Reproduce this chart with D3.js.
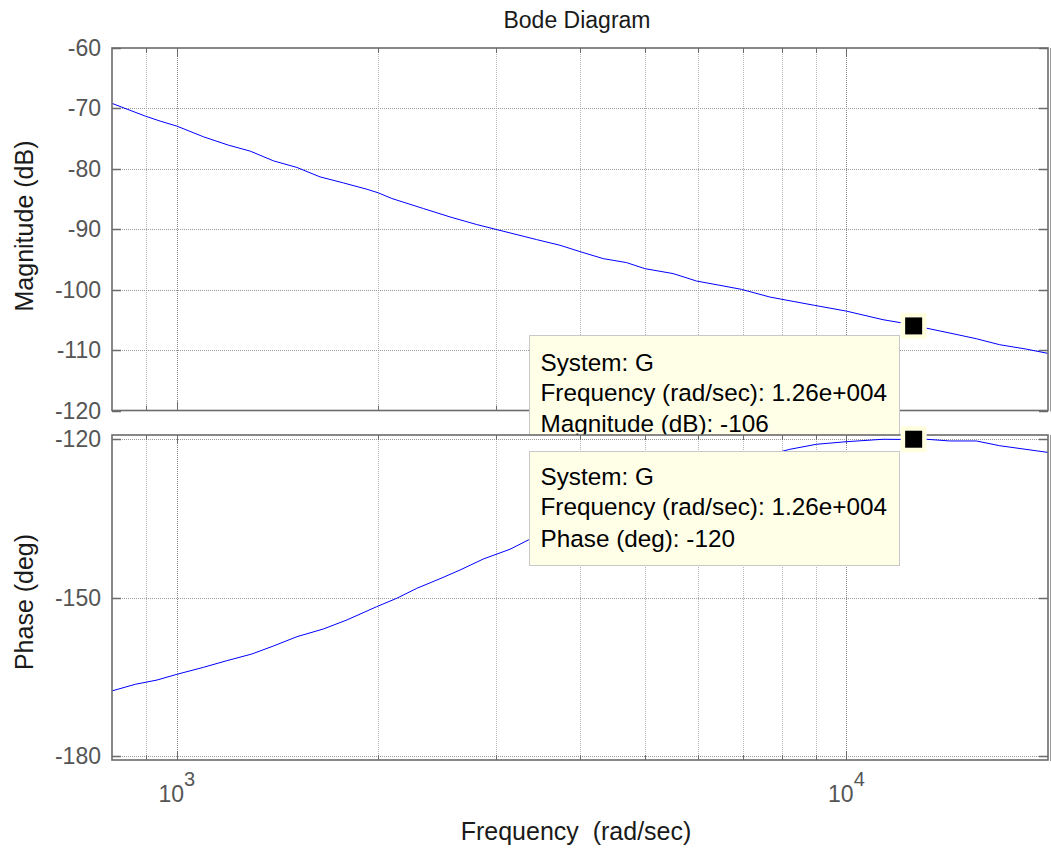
<!DOCTYPE html>
<html><head><meta charset="utf-8">
<script src="https://cdn.jsdelivr.net/npm/d3@7"></script>
<style>body{margin:0;background:#fff;} svg{display:block;} text{font-family:"Liberation Sans",Arial,sans-serif;}</style>
</head><body>
<svg id="c" width="1051" height="852"></svg>
<script>
// ---- data ----
const magFreq = [800, 897, 944, 1000, 1096, 1194, 1287, 1394, 1511, 1636, 1773, 1921, 2000, 2094, 2334, 2558, 2804, 3003, 3445, 3734, 3999, 4332, 4694, 5000, 5511, 5972, 6471, 6971, 7685, 8325, 8966, 10000, 11340, 12548, 13164, 14426, 15631, 16935, 18565, 20000];
const magDb = [-69.17, -71.27, -72.10, -72.93, -74.70, -76.08, -77.07, -78.68, -79.77, -81.33, -82.33, -83.37, -83.98, -84.91, -86.57, -87.96, -89.22, -90.05, -91.71, -92.65, -93.70, -94.86, -95.52, -96.52, -97.34, -98.57, -99.28, -99.95, -101.22, -101.94, -102.60, -103.55, -104.97, -105.80, -106.37, -107.29, -108.12, -109.11, -109.84, -110.55];
const phaseFreq = [800, 867, 934, 1000, 1096, 1187, 1294, 1394, 1511, 1655, 1794, 1988, 2130, 2282, 2472, 2648, 2869, 3144, 3348, 3734, 4283, 5085, 6039, 7171, 8231, 9020, 10000, 11340, 12548, 13164, 14264, 15631, 16935, 20000];
const phaseDeg = [-167.7, -166.45, -165.64, -164.56, -163.23, -161.98, -160.71, -159.19, -157.43, -155.97, -154.26, -151.74, -150.15, -148.26, -146.44, -144.79, -142.70, -140.86, -139.10, -136.3, -133.3, -129.8, -126.6, -123.9, -121.91, -120.96, -120.47, -120.01, -120.05, -120.01, -120.33, -120.33, -121.23, -122.5];
const magTicks = [-60, -70, -80, -90, -100, -110, -120];
const phaseTicks = [-120, -150, -180];
const freqGrid = [900, 1000, 2000, 3000, 4000, 5000, 6000, 7000, 8000, 9000, 10000];
const freqMajor = [1000, 10000];
const freqLabels = [{v:1000, base:"10", exp:"3"}, {v:10000, base:"10", exp:"4"}];
const markerFreq = 12600;
const markerMag = -106;
const markerPhase = -120;
const tip1Lines = ["System: G", "Frequency (rad/sec): 1.26e+004", "Magnitude (dB): -106"];
const tip2Lines = ["System: G", "Frequency (rad/sec): 1.26e+004", "Phase (deg): -120"];

// ---- layout ----
const svg = d3.select("#c");
const L = 112, R = 1048;
const x = d3.scaleLog().domain([800, 20000]).range([L, R]);
const yM = d3.scaleLinear().domain([-120, -60]).range([410.5, 48]);
const yP = d3.scaleLinear().domain([-180.8, -119.2]).range([760, 435]);
const axisCol = "#6b6b6b", labCol = "#555";

function panel(y, ticks, gridVals, top, bot) {
  const g = svg.append("g");
  g.append("rect").attr("x", L).attr("y", top).attr("width", R - L).attr("height", bot - top).attr("fill", "#fff");
  freqGrid.forEach(f => {
    const maj = freqMajor.includes(f);
    g.append("line").attr("x1", Math.round(x(f)) + 0.5).attr("x2", Math.round(x(f)) + 0.5)
      .attr("y1", top).attr("y2", bot)
      .attr("stroke", maj ? "#8a8a8a" : "#b4b4b4").attr("stroke-width", 1)
      .attr("stroke-dasharray", "1,1");
  });
  gridVals.forEach(v => {
    g.append("line").attr("x1", L).attr("x2", R).attr("y1", Math.round(y(v)) + 0.5).attr("y2", Math.round(y(v)) + 0.5)
      .attr("stroke", "#999").attr("stroke-width", 1).attr("stroke-dasharray", "1,1");
  });
  freqGrid.forEach(f => {
    const len = freqMajor.includes(f) ? 9 : 5;
    const xx = Math.round(x(f)) + 0.5;
    g.append("line").attr("x1", xx).attr("x2", xx).attr("y1", top).attr("y2", top + len).attr("stroke", axisCol);
    g.append("line").attr("x1", xx).attr("x2", xx).attr("y1", bot).attr("y2", bot - len).attr("stroke", axisCol);
  });
  ticks.forEach(v => {
    const yy = Math.round(y(v)) + 0.5;
    g.append("line").attr("x1", L).attr("x2", L + 9).attr("y1", yy).attr("y2", yy).attr("stroke", axisCol).attr("stroke-width", 1.5);
    g.append("line").attr("x1", R - 9).attr("x2", R).attr("y1", yy).attr("y2", yy).attr("stroke", axisCol).attr("stroke-width", 1.5);
    g.append("text").attr("x", 101).attr("y", y(v)).attr("dy", "0.35em").attr("text-anchor", "end")
      .attr("font-size", 23).attr("fill", labCol).text(v);
  });
  return g;
}

function border(top, bot) {
  svg.append("rect").attr("x", L).attr("y", top).attr("width", R - L).attr("height", bot - top)
    .attr("fill", "none").attr("stroke", axisCol).attr("stroke-width", 1.6);
  svg.append("line").attr("x1", R + 2.5).attr("x2", R + 2.5).attr("y1", top).attr("y2", bot + 1).attr("stroke", "#999").attr("stroke-width", 1);
}

// ---- magnitude panel ----
const gM = panel(yM, magTicks, [-70, -80, -90, -100, -110], 48, 410.5);
gM.append("path").datum(magFreq.map((f, i) => [f, magDb[i]]))
  .attr("d", d3.line().x(d => x(d[0])).y(d => yM(d[1])))
  .attr("fill", "none").attr("stroke", "#0000ff").attr("stroke-width", 1);
border(48, 410.5);

function marker(cx, cy) {
  svg.append("rect").attr("x", cx - 13).attr("y", cy - 13).attr("width", 26).attr("height", 26).attr("fill", "#ffffe0");
  svg.append("rect").attr("x", cx - 8.5).attr("y", cy - 8.5).attr("width", 17).attr("height", 17).attr("fill", "#000");
}
function tip(lines, tx, ty, w, h, bases) {
  svg.append("rect").attr("x", tx + 0.5).attr("y", ty + 0.5).attr("width", w).attr("height", h)
    .attr("fill", "#ffffe8").attr("stroke", "#c8c8c8").attr("stroke-width", 1);
  lines.forEach((t, i) => svg.append("text").attr("x", tx + 11.5).attr("y", bases[i])
    .attr("font-size", 24.3).attr("fill", "#000").text(t));
}
marker(x(markerFreq), yM(markerMag));
tip(tip1Lines, 529, 335, 370, 114, [371, 401, 432]);

// ---- phase panel ----
const gP = panel(yP, phaseTicks, [-120, -150, -180], 435, 760);
gP.append("path").datum(phaseFreq.map((f, i) => [f, phaseDeg[i]]))
  .attr("d", d3.line().x(d => x(d[0])).y(d => yP(d[1])))
  .attr("fill", "none").attr("stroke", "#0000ff").attr("stroke-width", 1);
border(435, 760);
tip(tip2Lines, 529, 451, 370, 114, [485, 515, 547]);
marker(x(markerFreq), yP(markerPhase));

// ---- x tick labels ----
freqLabels.forEach(d => {
  const t = svg.append("text").attr("x", x(d.v)).attr("y", 802).attr("text-anchor", "middle").attr("font-size", 23).attr("fill", labCol);
  t.append("tspan").text(d.base);
  t.append("tspan").attr("dy", -16).attr("font-size", 20).text(d.exp);
});

// ---- titles ----
svg.append("text").attr("x", 577).attr("y", 28).attr("text-anchor", "middle").attr("font-size", 23).attr("fill", "#1a1a1a").text("Bode Diagram");
svg.append("text").attr("x", 576).attr("y", 840).attr("text-anchor", "middle").attr("font-size", 25).attr("fill", "#1a1a1a").style("white-space", "pre").text("Frequency  (rad/sec)");
svg.append("text").attr("transform", "translate(33,226) rotate(-90)").attr("text-anchor", "middle").attr("font-size", 25).attr("fill", "#1a1a1a").text("Magnitude (dB)");
svg.append("text").attr("transform", "translate(33,602) rotate(-90)").attr("text-anchor", "middle").attr("font-size", 25).attr("fill", "#1a1a1a").text("Phase (deg)");
</script>
</body></html>
